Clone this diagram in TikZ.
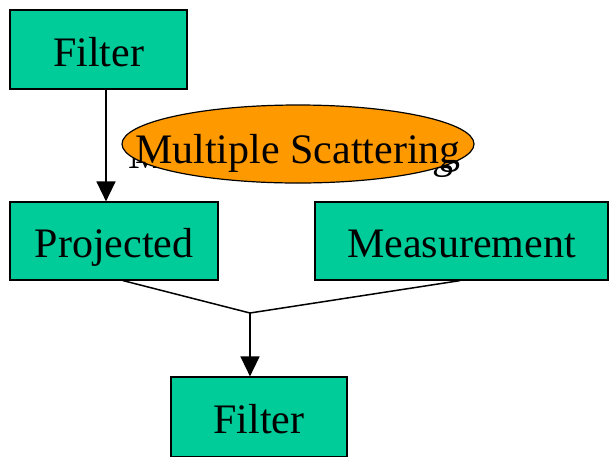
\documentclass[tikz,border=0pt]{standalone}
\usepackage{fontspec}
\setmainfont{Liberation Serif}
\usetikzlibrary{shapes.geometric,arrows.meta}
\definecolor{boxgreen}{RGB}{0,204,153}
\definecolor{msorange}{RGB}{255,153,0}
\tikzset{
  bigtext/.style={font=\fontsize{42}{50}\selectfont},
  stagebox/.style={draw=black, line width=1.2pt, fill=boxgreen, rectangle, inner sep=0pt,
    bigtext, text height=33pt, text depth=0pt},
  conn/.style={draw=black, line width=1.5pt},
  arr/.style={conn, -{Triangle[length=20pt,width=19pt]}}
}
\begin{document}
\begin{tikzpicture}[x=1pt,y=-1pt]
\useasboundingbox (0,0) rectangle (610,456);
\begin{scope}
\clip (0,0) rectangle (610,456);
\node[stagebox, minimum width=177pt, minimum height=79pt] (f1) at (98.5,49.5) {Filter};
\node[stagebox, minimum width=208pt, minimum height=78pt] (proj) at (114,241) {Projected};
\node[stagebox, minimum width=293pt, minimum height=78pt] (meas) at (461.5,241) {Measurement};
\node[stagebox, minimum width=176pt, minimum height=80pt] (f2) at (259,417) {Filter};
\coordinate (j) at (250,313);
\node[bigtext, anchor=base, inner sep=0pt] (msback) at (291,168) {Multiple Scattering};
\node[ellipse, draw=black, line width=1.2pt, fill=msorange, minimum width=352pt, minimum height=78pt, inner sep=0pt] (ms) at (298,144) {};
\node[bigtext, anchor=base, inner sep=0pt] (mstext) at (298,163) {Multiple Scattering};
\draw[arr] (f1.south -| 106,0) -- (proj.north -| 106,0);
\draw[conn] (proj.south -| 123,0) -- (j);
\draw[conn] (meas.south -| 460,0) -- (j);
\draw[arr] (j) -- (f2.north -| j);
\end{scope}
\end{tikzpicture}
\end{document}
